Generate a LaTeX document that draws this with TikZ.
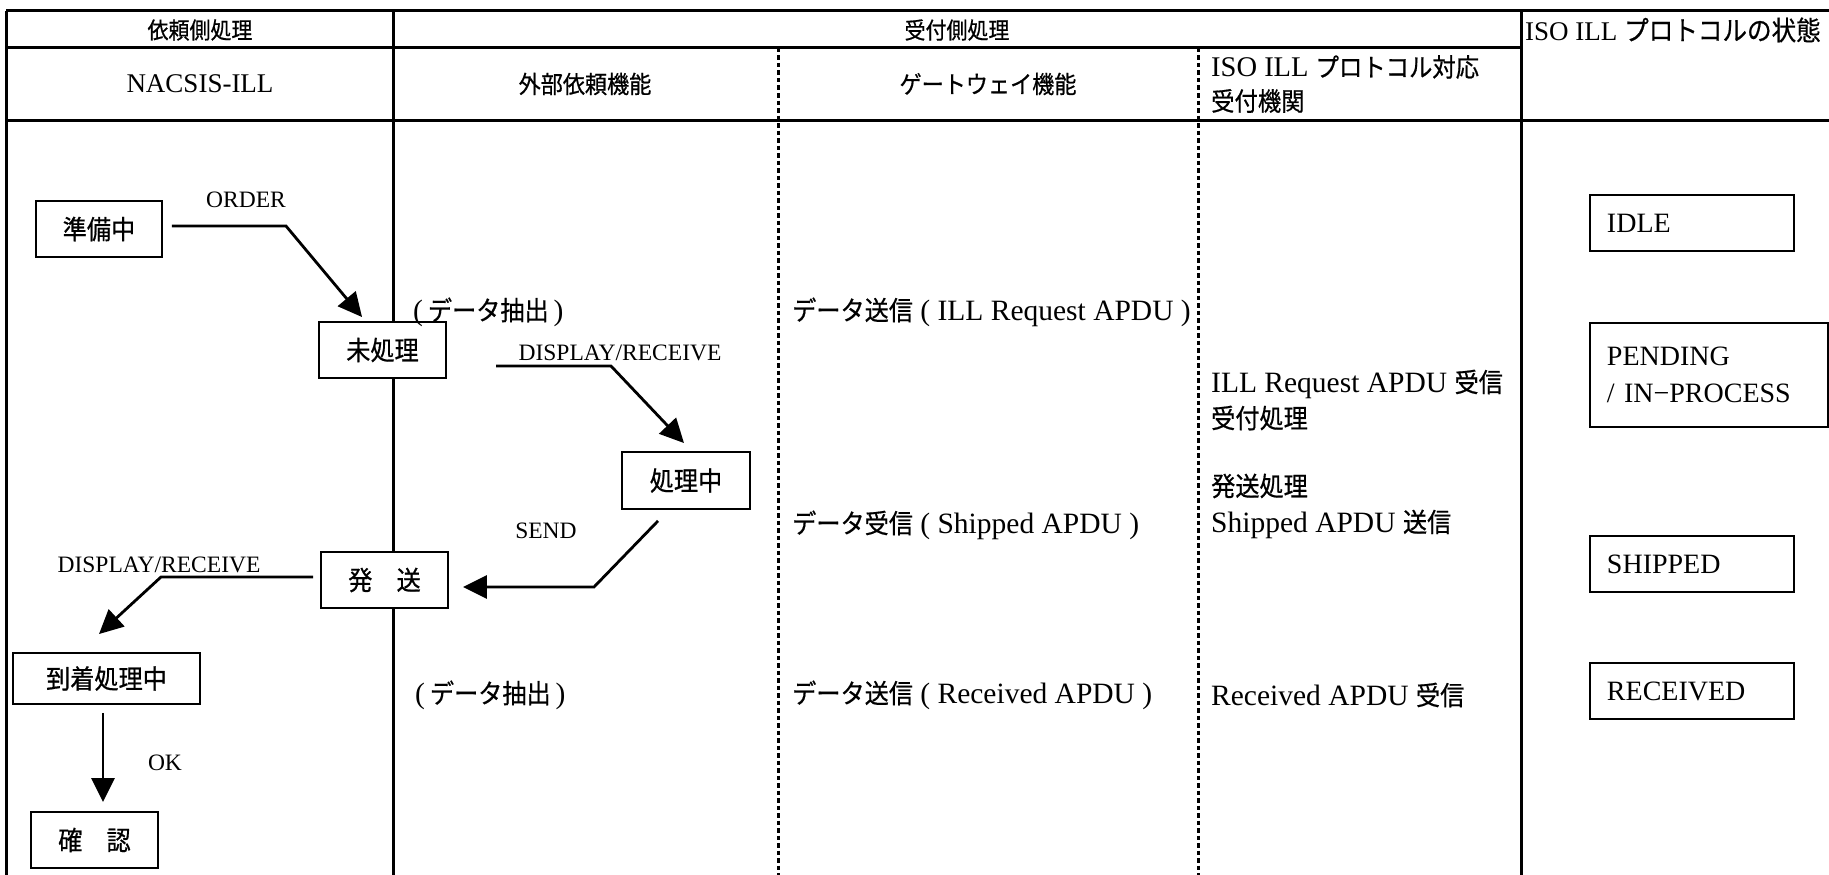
\documentclass[tikz,border=0pt]{standalone}
\usepackage{fontspec}
\setmainfont{Liberation Serif}
\newfontfamily\jpf{Noto Sans CJK JP}[Scale=0.9,FakeStretch=0.91,FakeBold=0.6]
\newfontfamily\jpb{Noto Sans CJK JP}[Scale=1.0,FakeStretch=0.91,FakeBold=0.6]
\newcommand\jt[1]{{\jpf #1}}
\usetikzlibrary{arrows.meta}
\begin{document}
\begin{tikzpicture}[x=1pt,y=-1pt,
  tline/.style={line width=3pt},
  dline/.style={line width=3pt, dash pattern=on 4.5pt off 3pt},
  sbox/.style={draw, fill=white, line width=1.9pt, inner sep=0pt, font=\fontsize{29.5}{34}\selectfont},
  stbox/.style={draw, fill=white, line width=1.9pt, anchor=north west, inner xsep=17pt, inner ysep=0pt, align=left, font=\fontsize{28}{37}\selectfont},
  conn/.style={line width=2.8pt, -{Triangle[length=24pt,width=23pt]}},
  lab/.style={font=\fontsize{23.5}{26}\selectfont, inner sep=0pt},
  htxt/.style={font=\fontsize{25.6}{28}\selectfont, inner sep=0pt},
  ctxt/.style={font=\fontsize{27}{33}\selectfont, inner sep=0pt},
  txt/.style={font=\fontsize{29.5}{36}\selectfont, inner sep=0pt, anchor=west, align=left}]
\useasboundingbox (0,0) rectangle (1829,875);
% table lines
\draw[tline] (6,11) -- (1829,11);
\draw[tline] (6,48) -- (1521,48);
\draw[tline] (6,120) -- (1829,120);
\draw[tline] (6,11) -- (6,875);
\draw[tline] (393,11) -- (393,875);
\draw[tline] (1521,11) -- (1521,875);
\draw[dline] (778,48) -- (778,875);
\draw[dline] (1198,48) -- (1198,875);
% header texts
\node[htxt] (h1) at (200,30) {\jt{依頼側処理}};
\node[htxt] (h2) at (957,30) {\jt{受付側処理}};
\node[anchor=west, inner sep=0pt, font=\fontsize{27}{30}\selectfont] (h3) at (1525,30) {ISO ILL {\jpb プロトコルの状態}};
\node[ctxt] (h4) at (200,84) {NACSIS-ILL};
\node[ctxt] (h5) at (585,84) {\jt{外部依頼機能}};
\node[ctxt] (h6) at (988,84) {\jt{ゲートウェイ機能}};
\node[anchor=west, align=left, inner sep=0pt, font=\fontsize{28.5}{34}\selectfont] (h7) at (1211,84) {ISO ILL \jt{プロトコル対応}\\\jt{受付機関}};
% state boxes
\node[sbox] (jb) at (99,229) [minimum width=126pt, minimum height=56pt] {\jt{準備中}};
\node[sbox] (mi) at (382.5,350) [minimum width=127pt, minimum height=56pt] {\jt{未処理}};
\node[sbox] (sc) at (686,480.5) [minimum width=128pt, minimum height=57pt] {\jt{処理中}};
\node[sbox] (hs) at (384.5,580) [minimum width=127pt, minimum height=56pt] {\jt{発　送}};
\node[sbox] (tc) at (106.5,678.5) [minimum width=187pt, minimum height=51pt] {\jt{到着処理中}};
\node[sbox] (kn) at (94.5,840) [minimum width=127pt, minimum height=56pt] {\jt{確　認}};
% protocol states
\node[stbox, minimum height=56pt, text width=170pt] (idle) at (1589,194) {IDLE};
\node[stbox, minimum height=104pt, text width=204pt] (pend) at (1589,322) {PENDING\\/ IN\textminus PROCESS};
\node[stbox, minimum height=56pt, text width=170pt] (ship) at (1589,535) {SHIPPED};
\node[stbox, minimum height=56pt, text width=170pt] (recv) at (1589,662) {RECEIVED};
% labels
\node[lab] (lorder) at (246,200) {ORDER};
\node[lab] (ldr1) at (620,353) {DISPLAY/RECEIVE};
\node[lab] (lsend) at (546,531) {SEND};
\node[lab] (ldr2) at (159,565) {DISPLAY/RECEIVE};
\node[lab] (lok) at (165,763) {OK};
% texts
\node[txt] (t1) at (413,312) {(\,\jt{データ抽出}\,)};
\node[txt] (t2) at (415,695) {(\,\jt{データ抽出}\,)};
\node[txt] (g1) at (792,312) {\jt{データ送信} ( ILL Request APDU )};
\node[txt] (g2) at (792,525) {\jt{データ受信} ( Shipped APDU )};
\node[txt] (g3) at (792,695) {\jt{データ送信} ( Received APDU )};
\node[txt] (i1) at (1211,400) {ILL Request APDU \jt{受信}\\\jt{受付処理}};
\node[txt] (i2) at (1211,506) {\jt{発送処理}\\Shipped APDU \jt{送信}};
\node[txt] (i3) at (1211,695) {Received APDU \jt{受信}};
% connectors
\coordinate (oc) at (286,226);
\draw[conn] ([xshift=9pt,yshift=3pt]jb.east) -- (oc) -- ([xshift=44pt,yshift=4pt]mi.north west);
\coordinate (d1s) at (496,366);
\coordinate (d1c) at (611,366);
\draw[conn] (d1s) -- (d1c) -- ([xshift=-2pt,yshift=8pt]sc.north);
\coordinate (sdc) at (594,587);
\draw[conn] ([xshift=-28pt,yshift=-11pt]sc.south) -- (sdc) -- ([xshift=14pt,yshift=-7pt]hs.east);
\coordinate (d2c) at (161,577);
\draw[conn] ([xshift=-7pt,yshift=3pt]hs.west) -- (d2c) -- ([xshift=-7.5pt,yshift=18pt]tc.north);
\draw[conn] ([xshift=-3.5pt,yshift=-8pt]tc.south) -- ([xshift=8.5pt,yshift=9pt]kn.north);
\end{tikzpicture}
\end{document}
